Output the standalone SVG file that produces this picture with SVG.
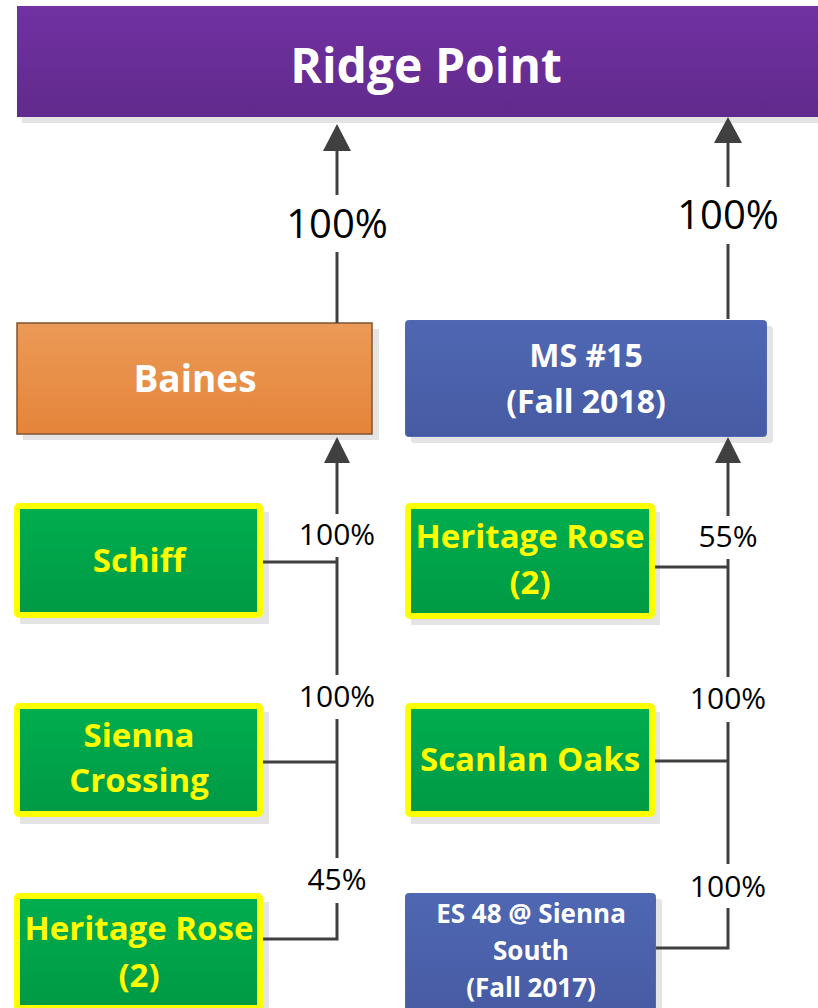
<svg xmlns="http://www.w3.org/2000/svg" width="818" height="1008" viewBox="0 0 818 1008">
<defs>
<linearGradient id="gPurple" x1="0" y1="0" x2="0" y2="1"><stop offset="0" stop-color="#7131A2"/><stop offset="1" stop-color="#612A8C"/></linearGradient>
<linearGradient id="gOrange" x1="0" y1="0" x2="0" y2="1"><stop offset="0" stop-color="#EB9A57"/><stop offset="1" stop-color="#E5843A"/></linearGradient>
<linearGradient id="gBlue" x1="0" y1="0" x2="0" y2="1"><stop offset="0" stop-color="#4F67B3"/><stop offset="1" stop-color="#475BA3"/></linearGradient>
<linearGradient id="gGreen" x1="0" y1="0" x2="0" y2="1"><stop offset="0" stop-color="#00AE4F"/><stop offset="1" stop-color="#009944"/></linearGradient>
</defs>
<style>
.shadow{fill:#E4E4E4}
.green{fill:url(#gGreen);stroke:#FFFF00;stroke-width:6}
.blue{fill:url(#gBlue);stroke:#5069B6;stroke-width:1}
.orange{fill:url(#gOrange);stroke:#7F5330;stroke-width:1.5}
.t{font-family:"Open Sans","Noto Sans","Liberation Sans",sans-serif;font-weight:bold;text-anchor:middle}
.w{fill:#FFFFFF}
.y{fill:#FFFF00}
.pct{font-family:"Open Sans","Noto Sans","Liberation Sans",sans-serif;fill:#000;text-anchor:middle}
.ln{stroke:#404040;stroke-width:3;fill:none}
.ah{fill:#404040}
</style>

<g id="ridge-point">
<rect class="shadow" x="22" y="11" width="796" height="112"/>
<rect x="17" y="6" width="801" height="111" fill="url(#gPurple)"/>
<text class="t w" x="426" y="83" font-size="48">Ridge Point</text>
</g>

<g id="baines">
<rect class="shadow" x="23" y="329" width="356" height="111"/>
<rect class="orange" x="17" y="323" width="355" height="111"/>
<text class="t w" x="195" y="392" font-size="37">Baines</text>
</g>

<g id="ms15">
<rect class="shadow" x="411" y="326" width="362" height="117" rx="3"/>
<rect class="blue" x="405.5" y="320.5" width="361" height="116" rx="3"/>
<text class="t w" x="586" y="367" font-size="32">MS #15</text>
<text class="t w" x="586" y="413" font-size="32">(Fall 2018)</text>
</g>

<g id="schiff">
<rect class="shadow" x="20" y="512" width="249" height="112"/>
<rect class="green" x="17" y="506" width="243" height="109" rx="2"/>
<text class="t y" x="139" y="572" font-size="33">Schiff</text>
</g>

<g id="sienna-crossing">
<rect class="shadow" x="20" y="712" width="249" height="112"/>
<rect class="green" x="17" y="706" width="243" height="108" rx="2"/>
<text class="t y" x="139" y="747" font-size="33">Sienna</text>
<text class="t y" x="139" y="792" font-size="33">Crossing</text>
</g>

<g id="heritage-rose-left">
<rect class="shadow" x="20" y="902" width="249" height="112"/>
<rect class="green" x="17" y="896" width="243" height="112" rx="2"/>
<text class="t y" x="139" y="940" font-size="33">Heritage Rose</text>
<text class="t y" x="139" y="987" font-size="33">(2)</text>
</g>

<g id="heritage-rose-right">
<rect class="shadow" x="411" y="512" width="249" height="113"/>
<rect class="green" x="408" y="506" width="244" height="110" rx="2"/>
<text class="t y" x="530" y="548" font-size="33">Heritage Rose</text>
<text class="t y" x="530" y="594" font-size="33">(2)</text>
</g>

<g id="scanlan-oaks">
<rect class="shadow" x="411" y="712" width="249" height="112"/>
<rect class="green" x="408" y="706" width="244" height="108" rx="2"/>
<text class="t y" x="530" y="771" font-size="33">Scanlan Oaks</text>
</g>

<g id="es48">
<rect class="shadow" x="411" y="899" width="251" height="115" rx="3"/>
<rect class="blue" x="405.5" y="893.5" width="250" height="120" rx="3"/>
<text class="t w" x="531" y="923" font-size="26">ES 48 @ Sienna</text>
<text class="t w" x="531" y="960" font-size="26">South</text>
<text class="t w" x="531" y="997" font-size="26">(Fall 2017)</text>
</g>

<g id="connectors">
<!-- Baines to Ridge Point -->
<line class="ln" x1="337" y1="323" x2="337" y2="252"/>
<line class="ln" x1="337" y1="195" x2="337" y2="148"/>
<polygon class="ah" points="337,124 323,151 351,151"/>
<text class="pct" x="337" y="238" font-size="40">100%</text>

<!-- MS15 to Ridge Point -->
<line class="ln" x1="728" y1="319" x2="728" y2="244"/>
<line class="ln" x1="728" y1="187" x2="728" y2="140"/>
<polygon class="ah" points="728,117 714,143 742,143"/>
<text class="pct" x="728" y="229" font-size="40">100%</text>

<!-- left trunk to Baines -->
<polygon class="ah" points="337,437 324,463 350,463"/>
<line class="ln" x1="337" y1="460" x2="337" y2="514"/>
<line class="ln" x1="337" y1="557" x2="337" y2="675"/>
<line class="ln" x1="337" y1="719" x2="337" y2="858"/>
<polyline class="ln" points="337,903 337,939 263,939"/>
<line class="ln" x1="263" y1="562" x2="337" y2="562"/>
<line class="ln" x1="263" y1="762" x2="337" y2="762"/>
<text class="pct" x="337" y="545" font-size="30">100%</text>
<text class="pct" x="337" y="707" font-size="30">100%</text>
<text class="pct" x="337" y="890" font-size="30">45%</text>

<!-- right trunk to MS15 -->
<polygon class="ah" points="728,437 715,463 741,463"/>
<line class="ln" x1="728" y1="460" x2="728" y2="516"/>
<line class="ln" x1="728" y1="559" x2="728" y2="677"/>
<line class="ln" x1="728" y1="722" x2="728" y2="864"/>
<polyline class="ln" points="728,908 728,948 656,948"/>
<line class="ln" x1="655" y1="567" x2="728" y2="567"/>
<line class="ln" x1="655" y1="761" x2="728" y2="761"/>
<text class="pct" x="728" y="547" font-size="30">55%</text>
<text class="pct" x="728" y="709" font-size="30">100%</text>
<text class="pct" x="728" y="897" font-size="30">100%</text>
</g>
</svg>
